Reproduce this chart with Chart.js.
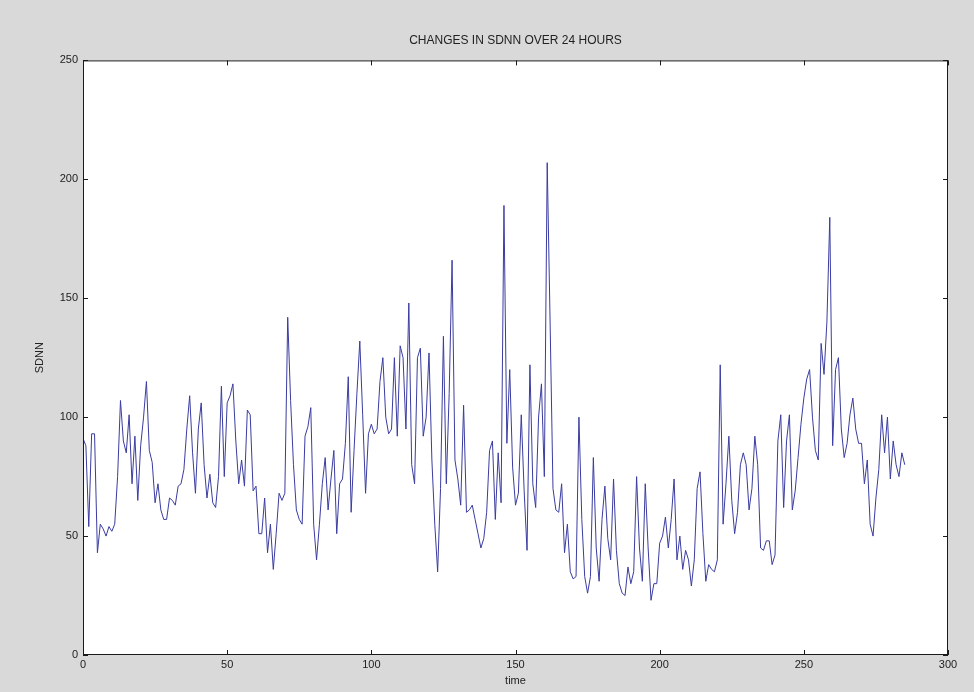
<!DOCTYPE html>
<html>
<head>
<meta charset="utf-8">
<script src="https://cdn.jsdelivr.net/npm/chart.js@4.4.1/dist/chart.umd.min.js"></script>
<style>
    html, body { margin: 0; padding: 0; background: #d9d9d9; }
    canvas { display: block; }
</style>
</head>
<body>
<canvas id="chart" width="974" height="692"></canvas>
<script>
// Valores de SDNN (una muestra por unidad de tiempo)
const sdnnValues = [
    91, 88, 54, 93, 93, 43, 55, 53, 50, 54,
    52, 55, 75, 107, 90, 85, 101, 72, 92, 65,
    88, 100, 115, 86, 81, 64, 72, 61, 57, 57,
    66, 65, 63, 71, 72, 78, 95, 109, 85, 68,
    95, 106, 80, 66, 76, 64, 62, 75, 113, 75,
    106, 109, 114, 90, 72, 82, 71, 103, 101, 69,
    71, 51, 51, 66, 43, 55, 36, 51, 68, 65,
    68, 142, 107, 80, 61, 57, 55, 92, 96, 104,
    55, 40, 55, 72, 83, 61, 74, 86, 51, 72,
    74, 89, 117, 60, 86, 110, 132, 101, 68, 93,
    97, 93, 95, 115, 125, 100, 93, 95, 125, 92,
    130, 125, 95, 148, 80, 72, 125, 129, 92, 100,
    127, 82, 55, 35, 70, 134, 72, 110, 166, 82,
    74, 63, 105, 60, 61, 63, 57, 51, 45, 49,
    60, 86, 90, 57, 85, 64, 189, 89, 120, 79,
    63, 68, 101, 69, 44, 122, 72, 62, 100, 114,
    75, 207, 140, 70, 61, 60, 72, 43, 55, 35,
    32, 33, 100, 57, 33, 26, 33, 83, 45, 31,
    57, 71, 49, 40, 74, 44, 30, 26, 25, 37,
    30, 35, 75, 45, 31, 72, 45, 23, 30, 30,
    47, 50, 58, 45, 57, 74, 40, 50, 36, 44,
    40, 29, 40, 70, 77, 51, 31, 38, 36, 35,
    40, 122, 55, 72, 92, 65, 51, 60, 80, 85,
    80, 61, 70, 92, 80, 45, 44, 48, 48, 38,
    42, 90, 101, 62, 90, 101, 61, 69, 83, 97,
    108, 116, 120, 100, 86, 82, 131, 118, 140, 184,
    88, 120, 125, 95, 83, 89, 101, 108, 95, 89,
    89, 72, 82, 55, 50, 66, 78, 101, 85, 100,
    74, 90, 80, 75, 85, 80
];
const xTicks = [0, 50, 100, 150, 200, 250, 300];
const yTicks = [0, 50, 100, 150, 200, 250];

const chartTitle = 'CHANGES IN SDNN OVER 24 HOURS';
const xLabel = 'time';
const yLabel = 'SDNN';

const points = sdnnValues.map((v, i) => ({ x: i, y: v }));

// Fondo blanco del área y marco con marcas hacia dentro (estilo MATLAB)
const frameBox = {
    id: 'frameBox',
    beforeDraw(chart) {
        const { ctx, chartArea: a } = chart;
        ctx.save();
        ctx.fillStyle = '#d9d9d9';
        ctx.fillRect(0, 0, chart.width, chart.height);
        ctx.fillStyle = '#ffffff';
        ctx.fillRect(a.left, a.top, a.right - a.left, a.bottom - a.top);
        ctx.restore();
    },
    afterDraw(chart) {
        const { ctx, chartArea: a } = chart;
        const xs = chart.scales.x;
        const ys = chart.scales.y;
        const len = 5;
        ctx.save();
        ctx.strokeStyle = '#1a1a1a';
        ctx.lineWidth = 1;
        ctx.strokeRect(a.left + 0.5, a.top + 0.5, a.right - a.left - 1, a.bottom - a.top - 1);
        ctx.beginPath();
        xTicks.forEach(t => {
            const px = Math.round(xs.getPixelForValue(t)) + 0.5;
            ctx.moveTo(px, a.bottom);
            ctx.lineTo(px, a.bottom - len);
            ctx.moveTo(px, a.top);
            ctx.lineTo(px, a.top + len);
        });
        yTicks.forEach(t => {
            const py = Math.round(ys.getPixelForValue(t)) + 0.5;
            ctx.moveTo(a.left, py);
            ctx.lineTo(a.left + len, py);
            ctx.moveTo(a.right, py);
            ctx.lineTo(a.right - len, py);
        });
        ctx.stroke();
        ctx.restore();
    }
};

const ctx = document.getElementById('chart').getContext('2d');
new Chart(ctx, {
    type: 'line',
    data: {
        datasets: [{
            label: yLabel,
            data: points,
            borderColor: 'rgb(58, 60, 160)',
            borderWidth: 1,
            pointRadius: 0,
            tension: 0,
            fill: false
        }]
    },
    options: {
        responsive: false,
        animation: false,
        layout: { padding: { top: 0, right: 26, bottom: 0, left: 0 } },
        plugins: {
            legend: { display: false },
            tooltip: { enabled: false },
            title: {
                display: true,
                text: chartTitle,
                fullSize: false,
                color: '#222',
                font: { family: 'Liberation Sans, Arial, sans-serif', size: 12, weight: 'normal' },
                padding: { top: 33, bottom: 13 }
            }
        },
        scales: {
            x: {
                type: 'linear',
                min: 0,
                max: 300,
                afterFit: (scale) => { scale.height = 37; },
                afterBuildTicks: (scale) => { scale.ticks = xTicks.map(v => ({ value: v })); },
                grid: { display: false, drawTicks: false },
                border: { display: false },
                ticks: {
                    padding: 3,
                    color: '#222',
                    maxRotation: 0,
                    font: { family: 'Liberation Sans, Arial, sans-serif', size: 11 }
                },
                title: {
                    display: true,
                    text: xLabel,
                    color: '#222',
                    font: { family: 'Liberation Sans, Arial, sans-serif', size: 11 },
                    padding: { top: 0, bottom: 4 }
                }
            },
            y: {
                type: 'linear',
                min: 0,
                max: 250,
                afterFit: (scale) => { scale.width = 83; },
                afterBuildTicks: (scale) => { scale.ticks = yTicks.map(v => ({ value: v })); },
                grid: { display: false, drawTicks: false },
                border: { display: false },
                ticks: {
                    padding: 5,
                    color: '#222',
                    font: { family: 'Liberation Sans, Arial, sans-serif', size: 11 }
                },
                title: {
                    display: true,
                    text: yLabel,
                    color: '#222',
                    font: { family: 'Liberation Sans, Arial, sans-serif', size: 11 },
                    padding: { top: 33, bottom: 0 }
                }
            }
        }
    },
    plugins: [frameBox]
});
</script>
</body>
</html>
